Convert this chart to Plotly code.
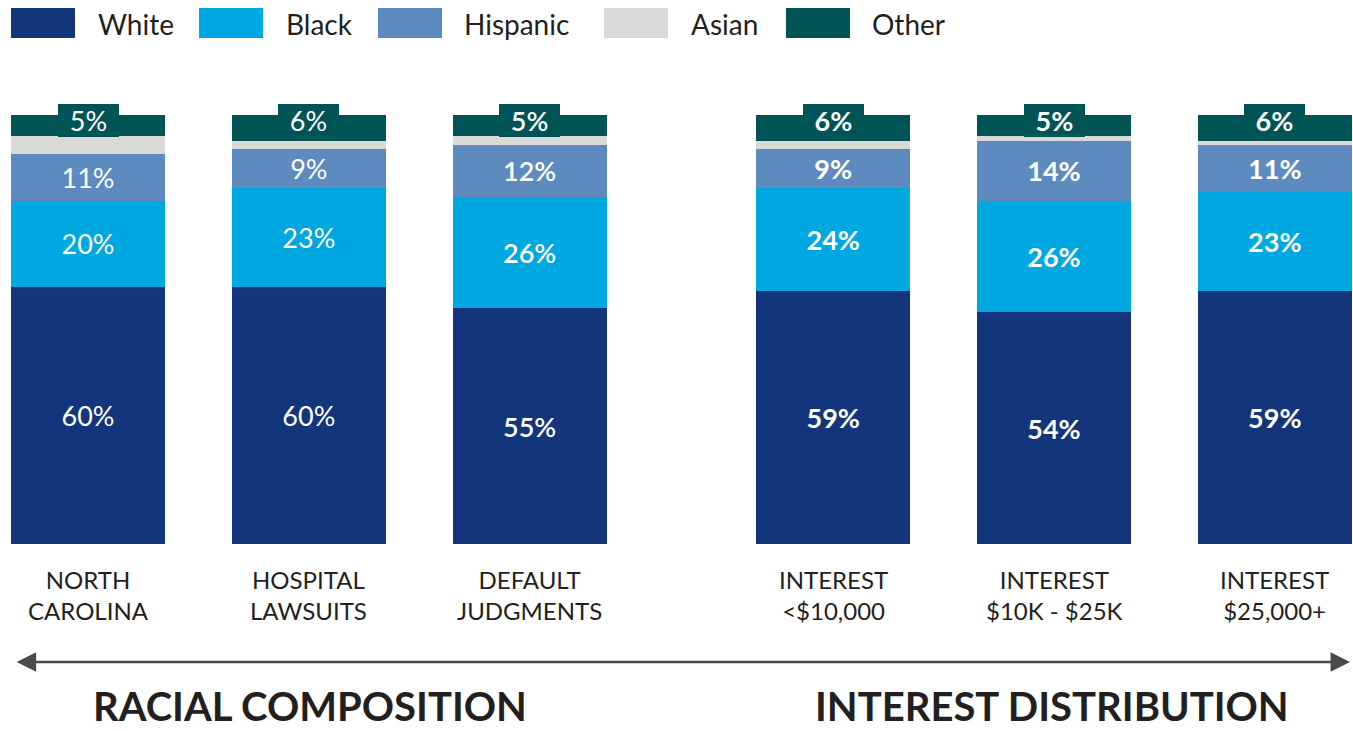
import plotly.graph_objects as go

# ---- data -------------------------------------------------------------
categories = ["NORTH<br>CAROLINA", "HOSPITAL<br>LAWSUITS", "DEFAULT<br>JUDGMENTS",
              "INTEREST<br>&lt;$10,000", "INTEREST<br>$10K - $25K", "INTEREST<br>$25,000+"]
x_pos = [0, 1, 2, 3.375, 4.375, 5.375]

white = [60, 60, 55, 59, 54, 59]
black = [20, 23, 26, 24, 26, 23]
hispanic = [11, 9, 12, 9, 14, 11]
asian = [4, 2, 2, 2, 1, 1]
other = [5, 6, 5, 6, 5, 6]

series_names = ["White", "Black", "Hispanic", "Asian", "Other"]
series_values = [white, black, hispanic, asian, other]
colors = ["#13357b", "#00a8e2", "#5e8bbf", "#d9d9d8", "#015455"]

group_titles = ["RACIAL COMPOSITION", "INTEREST DISTRIBUTION"]

# ---- layout helpers ---------------------------------------------------
W, H = 1353, 731
FONT = "Lato"
TXT = "#231f20"
label_weights = [400, 400, 600, 700, 700, 700]
PX_PER_UNIT_Y = 4.29


def px_x(p):
    return p / W


def px_y(p):
    return 1 - p / H


fig = go.Figure()

for name, vals, col in zip(series_names, series_values, colors):
    show_text = name in ("White", "Black", "Hispanic")
    fig.add_trace(go.Bar(
        x=x_pos, y=vals, name=name, width=0.698,
        marker=dict(color=col, line=dict(width=0)),
        text=[f"{v}%" for v in vals] if show_text else None,
        textposition="inside" if show_text else "none",
        insidetextanchor="middle",
        textangle=0,
        textfont=dict(family=FONT, size=27, color="white", weight=label_weights),
        hoverinfo="skip",
        showlegend=False,
    ))

annotations = []

# "Other" values sit on a teal tab that rises above each bar
for i, (xi, w, b, h, a, o) in enumerate(zip(x_pos, white, black, hispanic, asian, other)):
    top = w + b + h + a + o
    annotations.append(dict(
        x=xi, y=top + 11 / PX_PER_UNIT_Y, xref="x", yref="y",
        text=f"{o}%", showarrow=False,
        font=dict(family=FONT, size=27, color="white", weight=label_weights[i]),
        bgcolor=colors[4], borderwidth=0, borderpad=0,
        width=61, height=33,
        xanchor="center", yanchor="top",
    ))

# category labels under the bars
for xi, cat in zip(x_pos, categories):
    annotations.append(dict(
        x=xi, y=-4.5, xref="x", yref="y", text=cat, showarrow=False,
        font=dict(family=FONT, size=24, color=TXT),
        xanchor="center", yanchor="top", align="center",
    ))

# double-headed arrow spanning both groups
annotations.append(dict(
    x=5.716, y=-27.5, ax=-0.33, ay=-27.5,
    xref="x", yref="y", axref="x", ayref="y",
    text="", showarrow=True, arrowhead=2, startarrowhead=2,
    arrowside="end+start", arrowsize=1.5, startarrowsize=1.5,
    arrowwidth=2.6, arrowcolor="#4a4a4a",
))

# group titles, anchored to the bottom edge of the page
for cx, t in zip([310, 1052], group_titles):
    annotations.append(dict(
        x=px_x(cx), y=0, xref="paper", yref="paper",
        text=t, showarrow=False, borderpad=0,
        font=dict(family=FONT, size=40, color=TXT, weight=700),
        xanchor="center", yanchor="bottom",
    ))

# custom legend: large swatches with labels
shapes = []
legend_swatch_x = [11, 199, 378, 604, 786]
legend_text_x = [96, 284, 462, 689, 870]
for sx, tx, name, col in zip(legend_swatch_x, legend_text_x, series_names, colors):
    shapes.append(dict(
        type="rect", xref="paper", yref="paper",
        x0=px_x(sx), x1=px_x(sx + 64), y0=px_y(38), y1=px_y(8),
        fillcolor=col, line=dict(width=0),
    ))
    annotations.append(dict(
        x=px_x(tx), y=px_y(24), xref="paper", yref="paper",
        text=name, showarrow=False,
        font=dict(family=FONT, size=28, color=TXT),
        xanchor="left", yanchor="middle",
    ))

fig.update_layout(
    barmode="stack",
    width=W, height=H,
    margin=dict(l=0, r=0, t=0, b=0),
    paper_bgcolor="white", plot_bgcolor="white",
    xaxis=dict(range=[-88 / 220.8, (W - 88) / 220.8], visible=False, fixedrange=True),
    yaxis=dict(range=[(544 - H) / PX_PER_UNIT_Y, 544 / PX_PER_UNIT_Y],
               visible=False, fixedrange=True),
    annotations=annotations,
    shapes=shapes,
    uniformtext=dict(minsize=27, mode="show"),
)

fig.write_html("out.html")
